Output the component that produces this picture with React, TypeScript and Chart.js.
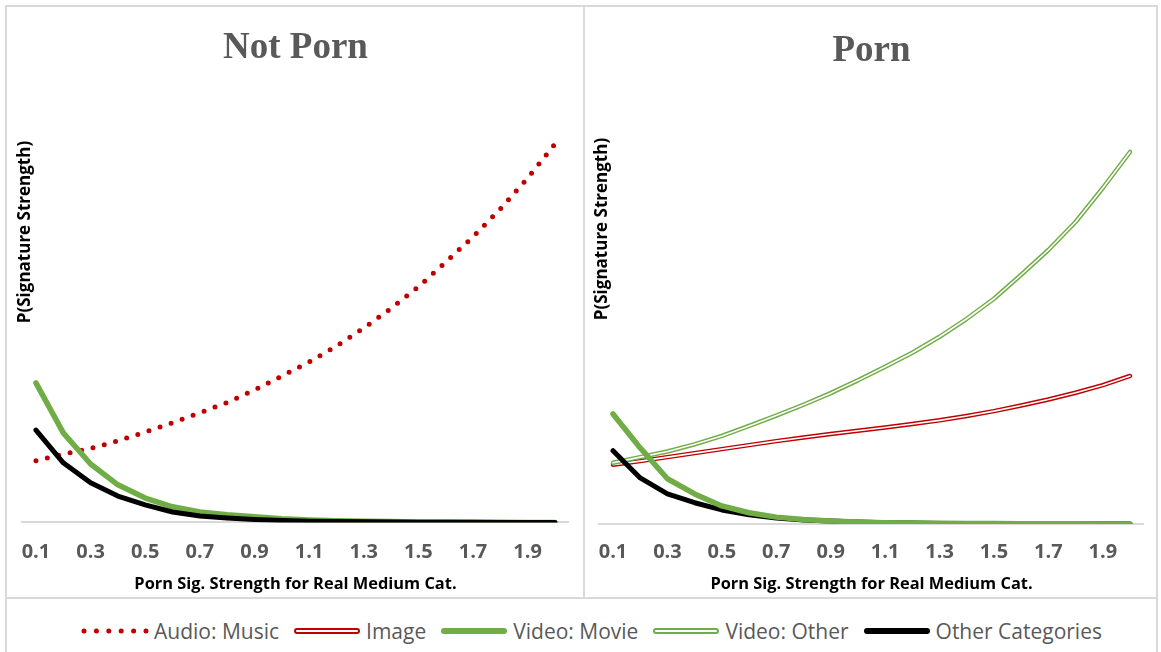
import React, { useEffect, useRef } from 'react';
import { Chart, registerables } from 'chart.js';

Chart.register(...registerables);

// ---------- data ----------
const xLabels = ['0.1', '0.2', '0.3', '0.4', '0.5', '0.6', '0.7', '0.8', '0.9', '1.0',
  '1.1', '1.2', '1.3', '1.4', '1.5', '1.6', '1.7', '1.8', '1.9', '2.0'];

// Not Porn panel
const notPornAudioMusic = [0.154, 0.171, 0.185, 0.204, 0.226, 0.249, 0.274, 0.300, 0.331, 0.366,
  0.401, 0.441, 0.486, 0.535, 0.589, 0.651, 0.714, 0.784, 0.861, 0.946];
const notPornVideoMovie = [0.349, 0.224, 0.146, 0.094, 0.061, 0.039, 0.026, 0.019, 0.014, 0.009,
  0.006, 0.004, 0.003, 0.002, 0.001, 0.001, 0.0005, 0.0003, 0.0001, 0.0001];
const notPornOther = [0.231, 0.149, 0.099, 0.066, 0.044, 0.026, 0.016, 0.011, 0.0075, 0.005,
  0.003, 0.002, 0.0015, 0.001, 0.0006, 0.0004, 0.0002, 0.0001, 0, 0];

// Porn panel
const pornImage = [0.148, 0.157, 0.167, 0.177, 0.187, 0.197, 0.207, 0.216, 0.225, 0.233,
  0.241, 0.250, 0.259, 0.270, 0.282, 0.296, 0.311, 0.328, 0.347, 0.370];
const pornVideoOther = [0.153, 0.167, 0.181, 0.199, 0.220, 0.245, 0.271, 0.298, 0.327, 0.359,
  0.393, 0.428, 0.468, 0.513, 0.563, 0.623, 0.685, 0.755, 0.840, 0.930];
const pornVideoMovie = [0.275, 0.19, 0.113, 0.075, 0.045, 0.028, 0.017, 0.011, 0.0075, 0.005,
  0.003, 0.002, 0.0015, 0.001, 0.0008, 0.0005, 0.0003, 0.0002, 0.0001, 0];
const pornOther = [0.183, 0.115, 0.075, 0.053, 0.035, 0.023, 0.015, 0.010, 0.007, 0.0045,
  0.003, 0.002, 0.0013, 0.0008, 0.0005, 0.0003, 0.0002, 0.0001, 0, 0];

const legendItems = ['Audio: Music', 'Image', 'Video: Movie', 'Video: Other', 'Other Categories'];

// ---------- styles ----------
const RED = '#c00000';
const GREEN = '#70ad47';
const BLACK = '#000000';
const GRAY = '#595959';
const BORDER = '#d9d9d9';
const SANS = '"Open Sans", "Noto Sans", sans-serif';

const yTitlePlugin = {
  id: 'yTitle',
  afterDraw(chart: any, _args: any, opts: any) {
    const ctx = chart.ctx;
    ctx.save();
    ctx.translate(opts.x, opts.y);
    ctx.rotate(-Math.PI / 2);
    ctx.font = 'bold 17px ' + SANS;
    ctx.fillStyle = '#000';
    ctx.textAlign = 'center';
    ctx.textBaseline = 'middle';
    ctx.fillText(opts.text, 0, 0);
    ctx.restore();
  },
};

function line(data: number[], color: string, width: number, order: number, extra: any = {}) {
  return {
    data,
    borderColor: color,
    backgroundColor: color,
    borderWidth: width,
    pointRadius: 0,
    pointHoverRadius: 0,
    tension: 0,
    fill: false,
    borderCapStyle: 'round',
    borderJoinStyle: 'round',
    order,
    ...extra,
  };
}

function makeConfig(datasets: any[], title: string, titlePad: { top: number; bottom: number },
  yTitle: { x: number; y: number }, pad: { left: number; right: number }, tickLen: number) {
  return {
    type: 'line',
    data: { labels: xLabels, datasets },
    options: {
      animation: false,
      responsive: false,
      events: [],
      layout: { padding: { left: pad.left, right: pad.right, top: 0, bottom: 0 } },
      plugins: {
        legend: { display: false },
        tooltip: { enabled: false },
        title: {
          display: true,
          text: title,
          color: GRAY,
          font: { family: '"Liberation Serif", serif', size: 37, weight: 'bold' },
          padding: titlePad,
        },
        yTitle: { text: 'P(Signature Strength)', x: yTitle.x, y: yTitle.y },
      },
      scales: {
        x: {
          type: 'category',
          offset: true,
          grid: {
            display: true, drawOnChartArea: false, drawTicks: true,
            tickLength: tickLen, color: 'rgba(0,0,0,0)',
          },
          border: { display: true, color: BORDER, width: 2 },
          ticks: {
            autoSkip: false,
            maxRotation: 0,
            padding: 0,
            color: GRAY,
            font: { family: SANS, size: 20, weight: 'bold' },
            callback: (_v: any, i: number) => (i % 2 === 0 ? xLabels[i] : ''),
          },
          title: {
            display: true,
            text: 'Porn Sig. Strength for Real Medium Cat.',
            color: '#000',
            font: { family: SANS, size: 16.4, weight: 'bold' },
            padding: { top: 10.5, bottom: 2.4 },
          },
        },
        y: { display: false, min: 0, max: 1 },
      },
    },
    plugins: [yTitlePlugin],
  };
}

function ChartCanvas({ config, width, height }: { config: () => any; width: number; height: number }) {
  const ref = useRef<HTMLCanvasElement | null>(null);
  useEffect(() => {
    if (!ref.current) return;
    const chart = new Chart(ref.current, config());
    return () => chart.destroy();
  }, []);
  return <canvas ref={ref} width={width} height={height} style={{ width, height, display: 'block' }} />;
}

function LegendSample({ kind }: { kind: number }) {
  const w = 68;
  const y = 6;
  if (kind === 0) {
    return (
      <svg width={w} height={12}>
        <line x1={3} y1={y} x2={65} y2={y} stroke={RED} strokeWidth={5} strokeLinecap="round" strokeDasharray="0 12.4" />
      </svg>
    );
  }
  if (kind === 1 || kind === 3) {
    const c = kind === 1 ? RED : GREEN;
    return (
      <svg width={w} height={12}>
        <line x1={4} y1={y} x2={64} y2={y} stroke={c} strokeWidth={6} strokeLinecap="round" />
        <line x1={4} y1={y} x2={64} y2={y} stroke="#fff" strokeWidth={2} strokeLinecap="round" />
      </svg>
    );
  }
  const c = kind === 2 ? GREEN : BLACK;
  return (
    <svg width={w} height={12}>
      <line x1={4} y1={y} x2={64} y2={y} stroke={c} strokeWidth={6} strokeLinecap="round" />
    </svg>
  );
}

export default function App() {
  const leftConfig = () =>
    makeConfig(
      [
        line(notPornOther, BLACK, 5, 0),
        line(notPornVideoMovie, GREEN, 5.5, 1),
        line(notPornAudioMusic, RED, 5, 2, { borderDash: [0, 11.7] }),
      ],
      'Not Porn',
      { top: 18.8, bottom: 52.3 },
      { x: 18, y: 225 },
      { left: 15.3, right: 14.4 },
      18,
    );
  const rightConfig = () =>
    makeConfig(
      [
        line(pornVideoMovie, GREEN, 5.5, 0),
        line(pornOther, BLACK, 5, 1),
        line(pornVideoOther, '#ffffff', 1.6, 2),
        line(pornVideoOther, GREEN, 4.5, 3),
        line(pornImage, '#ffffff', 1.6, 4),
        line(pornImage, RED, 4.5, 5),
      ],
      'Porn',
      { top: 21.8, bottom: 50.8 },
      { x: 17, y: 222 },
      { left: 14.4, right: 12.4 },
      16.5,
    );

  return (
    <div style={{ position: 'absolute', left: 0, top: 0, width: 1161, height: 652, background: '#fff', overflow: 'hidden' }}>
      <div style={{ position: 'absolute', left: 5, top: 5, width: 1153, height: 700, border: `2px solid ${BORDER}`, boxSizing: 'border-box' }} />
      <div style={{ position: 'absolute', left: 583, top: 5, width: 2, height: 594, background: BORDER }} />
      <div style={{ position: 'absolute', left: 5, top: 597, width: 1153, height: 2, background: BORDER }} />
      <div style={{ position: 'absolute', left: 7, top: 7 }}>
        <ChartCanvas config={leftConfig} width={576} height={590} />
      </div>
      <div style={{ position: 'absolute', left: 585, top: 7 }}>
        <ChartCanvas config={rightConfig} width={571} height={590} />
      </div>
      <div
        style={{
          position: 'absolute', left: 10, top: 605, width: 1163, height: 52,
          display: 'flex', alignItems: 'center', justifyContent: 'center',
          fontFamily: SANS, fontSize: 21, color: GRAY,
        }}
      >
        {legendItems.map((name, i) => (
          <div key={name} style={{ display: 'flex', alignItems: 'center', marginRight: i < legendItems.length - 1 ? 14 : 0 }}>
            <LegendSample kind={i} />
            <span style={{ marginLeft: 5, whiteSpace: 'nowrap' }}>{name}</span>
          </div>
        ))}
      </div>
    </div>
  );
}
